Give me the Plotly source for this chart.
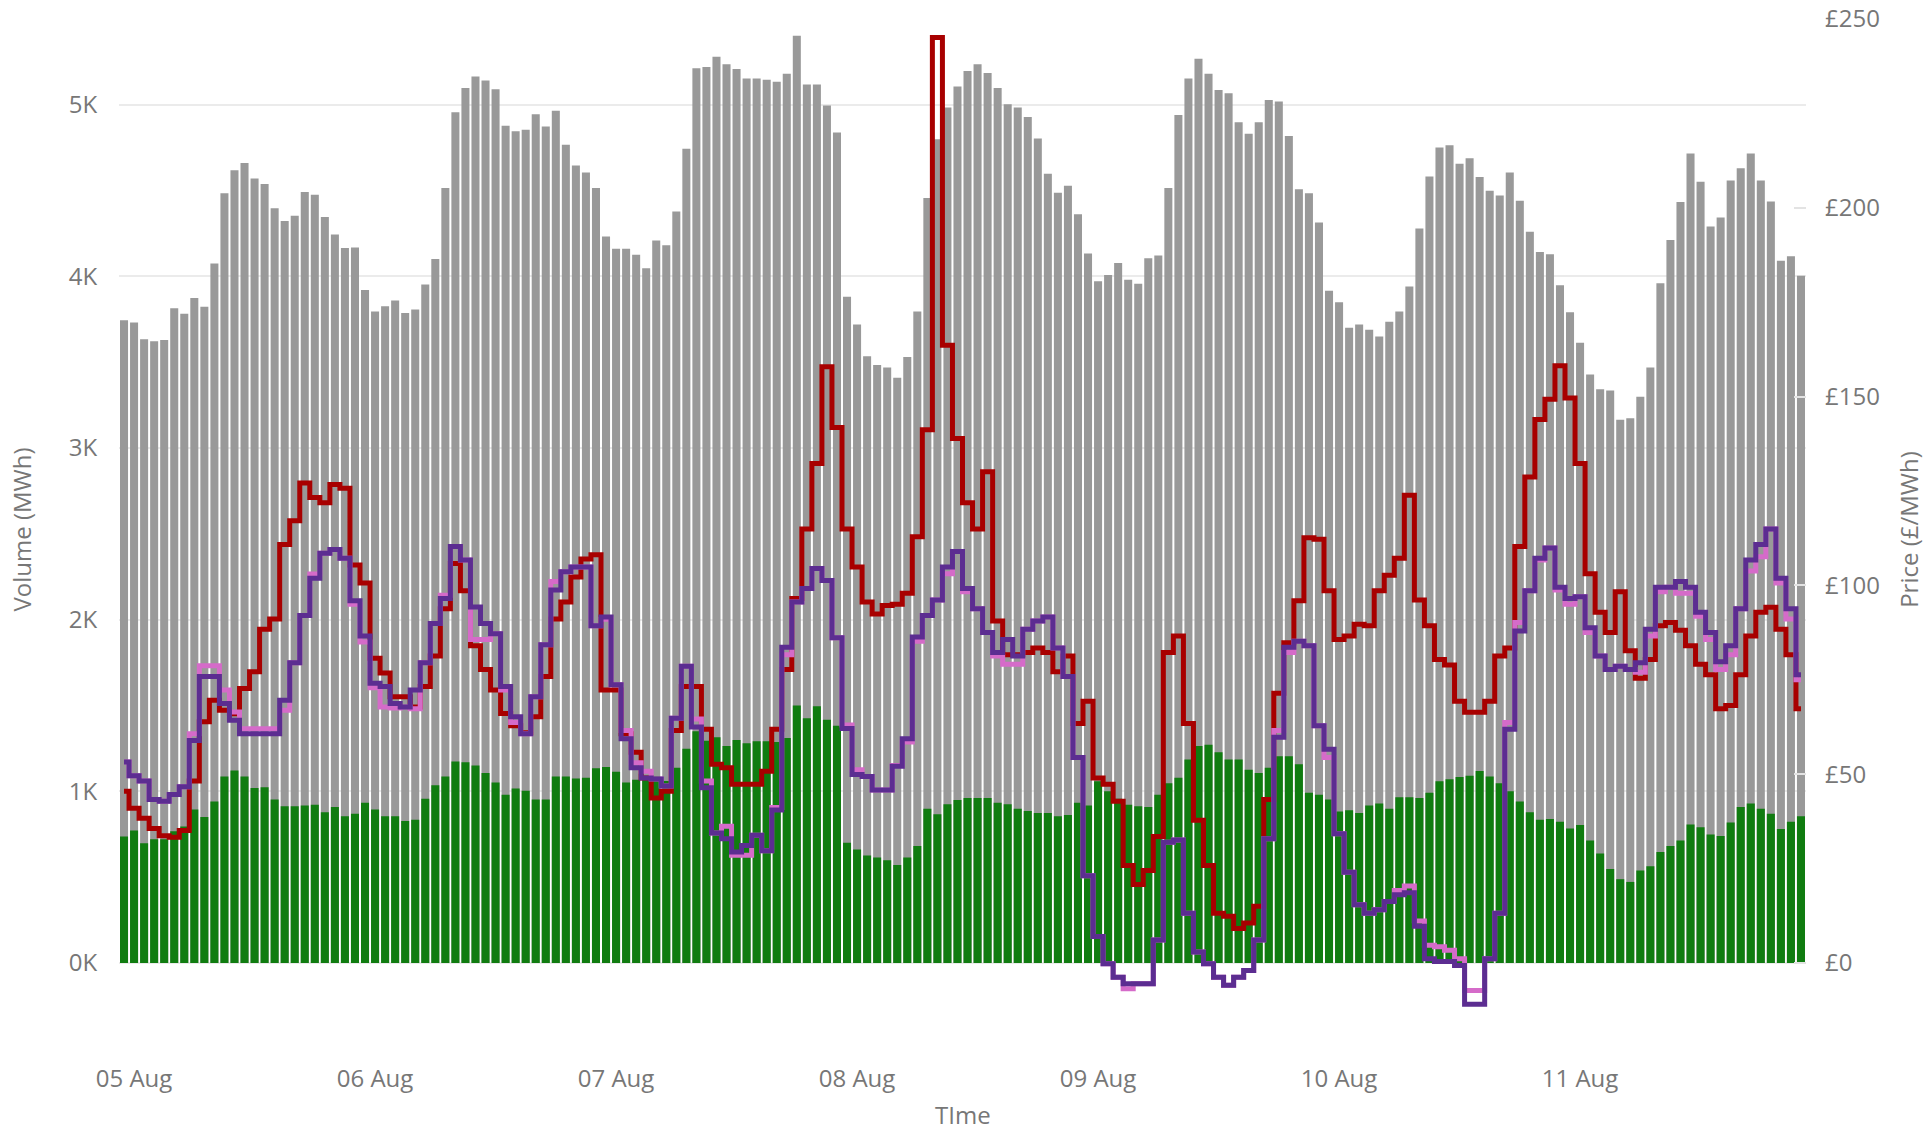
import pandas as pd
import plotly.graph_objects as go

# Hourly timestamps (first bar sits one hour before 05 Aug 00:00)
times = pd.date_range("2024-08-04 23:00", periods=168, freq="h")

total_volume = [
    3744, 3732, 3634, 3622, 3630, 3815, 3783, 3874, 3823, 4075, 4484, 4618, 4661, 4571, 4539, 4398,
    4323, 4354, 4492, 4476, 4346, 4244, 4165, 4169, 3921, 3795, 3827, 3860, 3787, 3807, 3953, 4102,
    4516, 4957, 5098, 5165, 5142, 5091, 4878, 4846, 4854, 4945, 4874, 4965, 4768, 4646, 4606, 4516,
    4232, 4161, 4161, 4126, 4047, 4209, 4181, 4378, 4744, 5213, 5220, 5280, 5236, 5209, 5154, 5154,
    5146, 5134, 5181, 5402, 5118, 5118, 4996, 4839, 3882, 3720, 3535, 3484, 3469, 3409, 3531, 3795,
    4457, 4799, 4984, 5106, 5197, 5236, 5185, 5098, 5004, 4984, 4929, 4803, 4598, 4488, 4528, 4362,
    4134, 3972, 4008, 4079, 3980, 3957, 4106, 4122, 4516, 4941, 5154, 5268, 5181, 5087, 5067, 4898,
    4831, 4898, 5028, 5020, 4819, 4508, 4484, 4315, 3917, 3850, 3701, 3720, 3689, 3650, 3736, 3795,
    3941, 4280, 4583, 4752, 4764, 4657, 4689, 4579, 4500, 4472, 4606, 4441, 4260, 4142, 4130, 3949,
    3791, 3614, 3429, 3343, 3335, 3165, 3173, 3299, 3469, 3961, 4213, 4433, 4717, 4551, 4291, 4343,
    4559, 4630, 4717, 4559, 4437, 4091, 4118, 4004,
]

green_volume = [
    736, 772, 697, 720, 720, 768, 795, 894, 850, 941, 1087, 1122, 1087, 1020, 1024, 953,
    913, 913, 917, 921, 878, 909, 854, 870, 933, 894, 854, 854, 827, 835, 957, 1035,
    1087, 1173, 1169, 1150, 1106, 1051, 980, 1016, 1004, 953, 953, 1087, 1087, 1075, 1079, 1134,
    1142, 1114, 1051, 1067, 1080, 1087, 1060, 1138, 1248, 1350, 1295, 1315, 1264, 1299, 1280, 1291,
    1291, 1287, 1311, 1500, 1425, 1496, 1417, 1382, 701, 661, 626, 614, 598, 571, 614, 681,
    898, 866, 925, 949, 961, 961, 961, 933, 925, 898, 886, 874, 874, 854, 862, 933,
    917, 1059, 1000, 957, 921, 913, 909, 980, 1047, 1079, 1185, 1264, 1272, 1228, 1185, 1185,
    1126, 1106, 1138, 1205, 1205, 1157, 992, 980, 953, 882, 890, 874, 917, 929, 898, 965,
    965, 961, 992, 1059, 1071, 1083, 1091, 1118, 1087, 1047, 1000, 941, 878, 835, 839, 823,
    783, 803, 713, 638, 547, 488, 472, 539, 563, 646, 681, 713, 807, 791, 748, 740,
    819, 909, 929, 898, 870, 780, 823, 854,
]

price_red = [
    45.5, 41.0, 38.3, 35.6, 33.7, 33.3, 35.1, 48.2, 63.9, 69.6, 66.9, 66.0, 72.7, 77.1, 88.4, 91.1,
    110.8, 117.1, 127.1, 123.3, 121.9, 126.7, 125.7, 105.4, 100.6, 80.7, 76.8, 70.5, 70.5, 67.8, 73.2, 81.3,
    93.8, 105.8, 98.6, 84.0, 77.7, 72.3, 66.1, 62.8, 61.0, 65.2, 75.9, 91.1, 95.6, 102.2, 107.0, 108.1,
    72.3, 72.3, 60.7, 55.8, 49.0, 43.7, 45.5, 61.6, 73.2, 73.2, 61.9, 52.6, 51.7, 47.3, 47.3, 47.3,
    50.8, 61.9, 77.7, 96.5, 114.9, 132.3, 157.9, 141.8, 114.9, 104.9, 95.6, 92.4, 94.7, 95.0, 97.9, 112.9,
    141.2, 245.1, 163.6, 138.9, 121.9, 114.9, 130.1, 90.6, 81.6, 81.6, 82.2, 83.4, 82.2, 77.1, 81.3, 63.4,
    69.3, 49.0, 47.3, 42.8, 25.8, 20.8, 24.5, 33.5, 82.2, 86.6, 63.4, 37.8, 25.8, 13.2, 12.4, 9.1,
    10.6, 15.0, 43.3, 71.4, 84.8, 95.9, 112.6, 112.2, 98.6, 85.7, 86.6, 89.7, 89.3, 98.6, 102.7, 107.2,
    123.9, 96.1, 89.3, 80.4, 78.9, 69.3, 66.4, 66.4, 69.3, 81.3, 83.4, 110.3, 128.7, 143.9, 149.3, 158.2,
    149.6, 132.3, 103.1, 92.9, 87.5, 98.3, 82.7, 75.4, 80.4, 89.3, 90.2, 88.1, 84.0, 79.1, 76.3, 67.3,
    68.2, 76.3, 86.6, 92.9, 94.2, 88.4, 81.6, 67.3,
]

price_pink = [
    53.2, 49.6, 48.2, 43.3, 42.8, 44.6, 46.7, 60.7, 78.7, 78.7, 72.3, 66.5, 62.0, 62.0, 62.0, 62.0,
    66.9, 79.5, 92.0, 103.0, 108.5, 109.5, 107.2, 95.0, 85.0, 72.9, 67.8, 67.5, 67.8, 67.3, 79.5, 89.9,
    97.4, 110.3, 106.7, 85.7, 85.7, 87.2, 72.3, 63.7, 60.7, 70.5, 84.3, 101.0, 103.6, 104.9, 104.9, 89.3,
    91.0, 73.7, 61.6, 53.0, 50.8, 48.7, 46.9, 64.8, 78.6, 64.6, 48.2, 34.4, 36.2, 28.5, 28.5, 33.8,
    29.7, 41.2, 81.6, 95.6, 99.2, 104.5, 101.3, 86.1, 63.0, 51.2, 49.4, 45.8, 45.8, 52.3, 58.5, 85.2,
    92.0, 96.1, 103.1, 109.0, 98.3, 93.8, 87.5, 81.3, 79.1, 79.1, 88.4, 90.6, 91.6, 83.4, 75.9, 54.4,
    23.1, 7.0, -0.2, -3.8, -6.8, -5.5, -5.5, 6.1, 32.0, 32.6, 13.2, 2.9, -0.2, -3.8, -5.9, -3.8,
    -2.0, 6.1, 32.9, 61.6, 82.2, 85.2, 84.0, 62.8, 54.4, 34.2, 24.0, 15.4, 13.2, 14.1, 16.3, 19.2,
    20.4, 11.1, 4.7, 4.3, 3.4, 1.1, -7.3, -7.3, 1.1, 13.2, 63.7, 90.2, 98.6, 106.7, 109.9, 98.8,
    95.0, 97.0, 87.5, 81.3, 77.7, 78.6, 77.7, 77.0, 86.6, 98.3, 99.5, 97.9, 97.9, 91.8, 85.7, 77.7,
    81.6, 93.8, 103.8, 107.6, 114.9, 100.6, 91.1, 75.0,
]

price_purple = [
    53.2, 49.6, 48.2, 43.3, 42.8, 44.6, 46.7, 58.9, 75.9, 75.9, 68.7, 64.3, 60.7, 60.7, 60.7, 60.7,
    69.6, 79.5, 92.0, 101.9, 108.5, 109.5, 107.2, 95.9, 86.6, 74.1, 73.2, 68.7, 67.8, 72.3, 79.5, 89.9,
    96.5, 110.3, 106.7, 94.3, 89.9, 87.2, 73.2, 65.2, 60.7, 70.5, 84.3, 98.8, 103.6, 104.9, 104.9, 89.3,
    91.6, 73.7, 59.4, 51.7, 49.0, 48.7, 46.9, 64.8, 78.6, 62.5, 46.4, 34.4, 32.9, 29.4, 31.1, 33.8,
    29.7, 40.5, 83.6, 95.6, 99.2, 104.5, 101.3, 86.1, 62.1, 49.9, 49.4, 45.8, 45.8, 52.1, 59.4, 86.3,
    92.0, 96.1, 104.9, 109.0, 99.2, 93.8, 87.5, 82.2, 85.7, 81.3, 88.4, 90.6, 91.6, 83.4, 75.9, 54.4,
    23.1, 7.0, -0.2, -3.8, -5.5, -5.5, -5.5, 6.1, 32.0, 32.6, 13.2, 2.9, -0.2, -3.8, -5.9, -3.8,
    -2.0, 6.1, 32.9, 59.8, 83.6, 85.2, 84.0, 62.8, 56.6, 34.2, 24.0, 15.4, 13.2, 14.1, 16.3, 18.1,
    18.6, 9.7, 1.1, 0.4, 0.4, -0.7, -10.9, -10.9, 1.1, 13.2, 61.9, 87.9, 98.6, 107.2, 109.9, 99.5,
    96.5, 97.0, 88.8, 81.3, 77.7, 78.6, 77.7, 79.5, 88.4, 99.5, 99.5, 101.0, 99.5, 92.9, 87.5, 79.8,
    84.0, 93.8, 106.7, 110.8, 114.9, 101.9, 93.8, 76.3,
]

FONT = "Open Sans, Segoe UI, sans-serif"
TXT = "#777777"

fig = go.Figure()
fig.add_trace(go.Bar(x=times, y=total_volume, marker=dict(color="#999999", line=dict(width=0)),
                     name="Total volume"))
fig.add_trace(go.Bar(x=times, y=green_volume, marker=dict(color="#107C10", line=dict(width=0)),
                     name="Green volume"))
fig.add_trace(go.Scatter(x=times, y=price_red, yaxis="y2", mode="lines",
                         line=dict(color="#A80000", width=5, shape="hvh"), name="Price A"))
fig.add_trace(go.Scatter(x=times, y=price_pink, yaxis="y2", mode="lines",
                         line=dict(color="#D56BC9", width=5, shape="hvh"), name="Price B"))
fig.add_trace(go.Scatter(x=times, y=price_purple, yaxis="y2", mode="lines",
                         line=dict(color="#5C2D91", width=5, shape="hvh"), name="Price C"))

fig.update_layout(
    width=1928, height=1131,
    margin=dict(l=119, r=122, t=19, b=91, autoexpand=False),
    paper_bgcolor="white", plot_bgcolor="white",
    barmode="overlay", bargap=0.2,
    showlegend=False,
    font=dict(family=FONT, size=24, color=TXT),
    xaxis=dict(
        type="date", tickformat="%d %b", dtick=86400000, tick0="2024-08-05",
        showgrid=False, showline=False, zeroline=False,
        ticks="outside", ticklen=17, tickcolor="rgba(0,0,0,0)",
        tickfont=dict(size=24, color=TXT),
    ),
    yaxis=dict(
        range=[-449, 5500], tickvals=[0, 1000, 2000, 3000, 4000, 5000],
        ticktext=["0K", "1K", "2K", "3K", "4K", "5K"],
        showgrid=True, gridcolor="#ebebeb", gridwidth=1.5, zeroline=False, showline=False,
        ticks="outside", ticklen=16, tickcolor="rgba(0,0,0,0)",
        tickfont=dict(size=24, color=TXT),
        title=dict(text="Volume (MWh)", font=dict(size=24, color=TXT), standoff=30),
    ),
    yaxis2=dict(
        overlaying="y", side="right", range=[-20.4, 250],
        tickvals=[0, 50, 100, 150, 200, 250],
        ticktext=["£0", "£50", "£100", "£150", "£200", "£250"],
        showgrid=False, zeroline=False, showline=False,
        ticks="inside", ticklen=12, tickcolor="#e3e3e3", tickwidth=1.5,
        ticklabelstandoff=18,
        tickfont=dict(size=24, color=TXT),
        title=dict(text="Price (£/MWh)", font=dict(size=24, color=TXT), standoff=22),
    ),
    annotations=[dict(
        text="TIme", xref="paper", yref="paper", x=0.5, y=-0.073,
        xanchor="center", yanchor="middle", showarrow=False,
        font=dict(family=FONT, size=24, color=TXT),
    )],
)

fig.write_html("out.html", config={"displayModeBar": False},
               post_script="document.body.style.margin='0px';")
